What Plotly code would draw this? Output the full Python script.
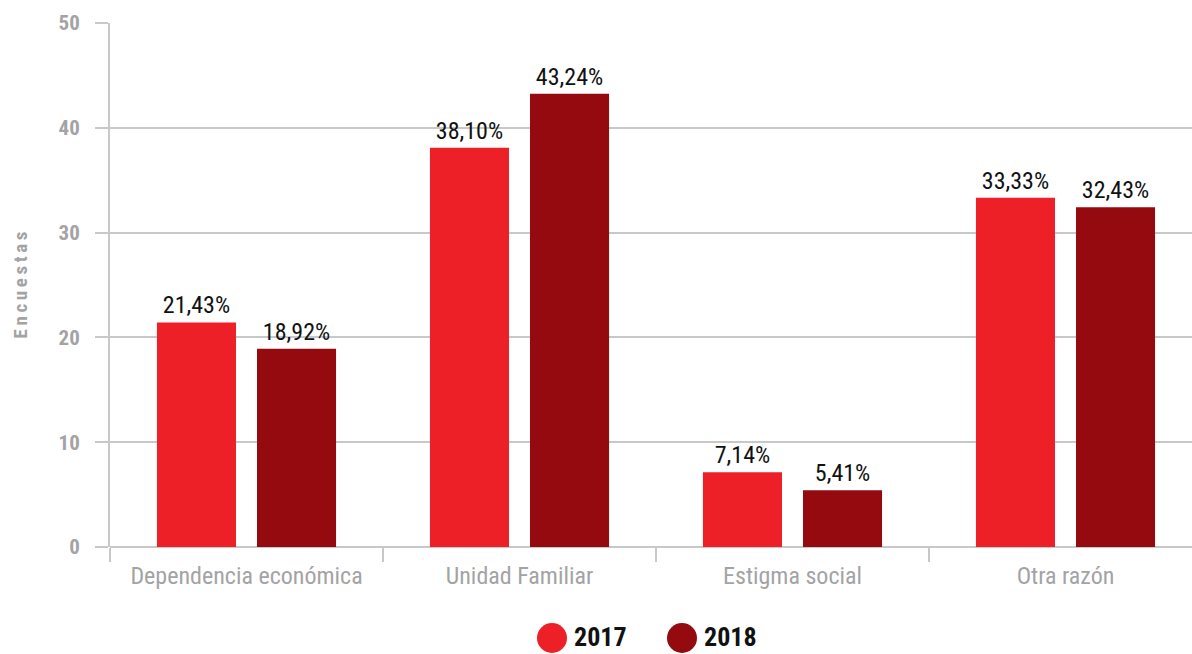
import plotly.graph_objects as go

categorias = ["Dependencia económica", "Unidad Familiar", "Estigma social", "Otra razón"]
valores_2017 = [21.43, 38.10, 7.14, 33.33]
valores_2018 = [18.92, 43.24, 5.41, 32.43]
series = ["2017", "2018"]
colores = ["#ED1F27", "#940A0E"]

FONT = "Liberation Sans Narrow, Roboto Condensed, DejaVu Sans Condensed, sans-serif"
GRIS = "#A3A3A5"
LINEA = "#C8C8C8"

# plot area in pixels, used to place the hand-drawn legend
PX_L, PX_W, PX_B, PX_H = 110, 1082, 547, 524


def etiqueta(v):
    return f"{v:.2f}".replace(".", ",") + "%"


def px_x(px):
    return (px - PX_L) / PX_W


def px_y(py):
    return (PX_B - py) / PX_H


fig = go.Figure()
for nombre, vals, color in zip(series, [valores_2017, valores_2018], colores):
    fig.add_trace(go.Bar(
        x=categorias, y=vals, name=nombre,
        marker=dict(color=color, line=dict(width=0)),
        text=[etiqueta(v) for v in vals],
        textposition="outside",
        textfont=dict(family=FONT, size=24, color="#111111"),
        constraintext="none",
        cliponaxis=False,
        showlegend=False,
    ))

# legend: large circles with bold year labels below the plot
leg_cx = [552, 682]
leg_cy = 638
radio = 15
for cx, nombre, color in zip(leg_cx, series, colores):
    fig.add_shape(type="circle", xref="paper", yref="paper",
                  x0=px_x(cx - radio), x1=px_x(cx + radio),
                  y0=px_y(leg_cy + radio), y1=px_y(leg_cy - radio),
                  fillcolor=color, line=dict(width=0))
    fig.add_annotation(xref="paper", yref="paper",
                       x=px_x(cx + 21), y=px_y(leg_cy - 1),
                       text=f"<b>{nombre}</b>", showarrow=False,
                       xanchor="left", yanchor="middle", borderpad=0,
                       font=dict(family=FONT, size=26, color="#111111"))

fig.update_layout(
    width=1192, height=654,
    margin=dict(l=PX_L, r=0, t=23, b=107),
    paper_bgcolor="white", plot_bgcolor="white",
    barmode="group", bargap=0.267, bargroupgap=0.21,
    showlegend=False,
    font=dict(family=FONT),
)
fig.update_xaxes(
    range=[-0.5, 3.5 - 10 / 273],
    showline=False, showgrid=False, zeroline=False,
    ticks="outside", tickson="boundaries", ticklen=14, tickwidth=2, tickcolor=LINEA,
    tickfont=dict(family=FONT, size=24, color=GRIS),
    ticklabelstandoff=12,
)
fig.update_yaxes(
    range=[0, 50], dtick=10,
    showline=True, linecolor=LINEA, linewidth=2,
    showgrid=True, gridcolor=LINEA, gridwidth=2,
    zeroline=True, zerolinecolor=LINEA, zerolinewidth=2,
    ticks="outside", ticklen=13, tickwidth=2, tickcolor=LINEA,
    tickfont=dict(family=FONT, size=21, color=GRIS, weight="bold"),
    ticklabelstandoff=11,
    title=dict(text="<b>E\u2009n\u2009c\u2009u\u2009e\u2009s\u2009t\u2009a\u2009s</b>",
               font=dict(family=FONT, size=19, color=GRIS), standoff=26),
)

fig.write_html("out.html")
